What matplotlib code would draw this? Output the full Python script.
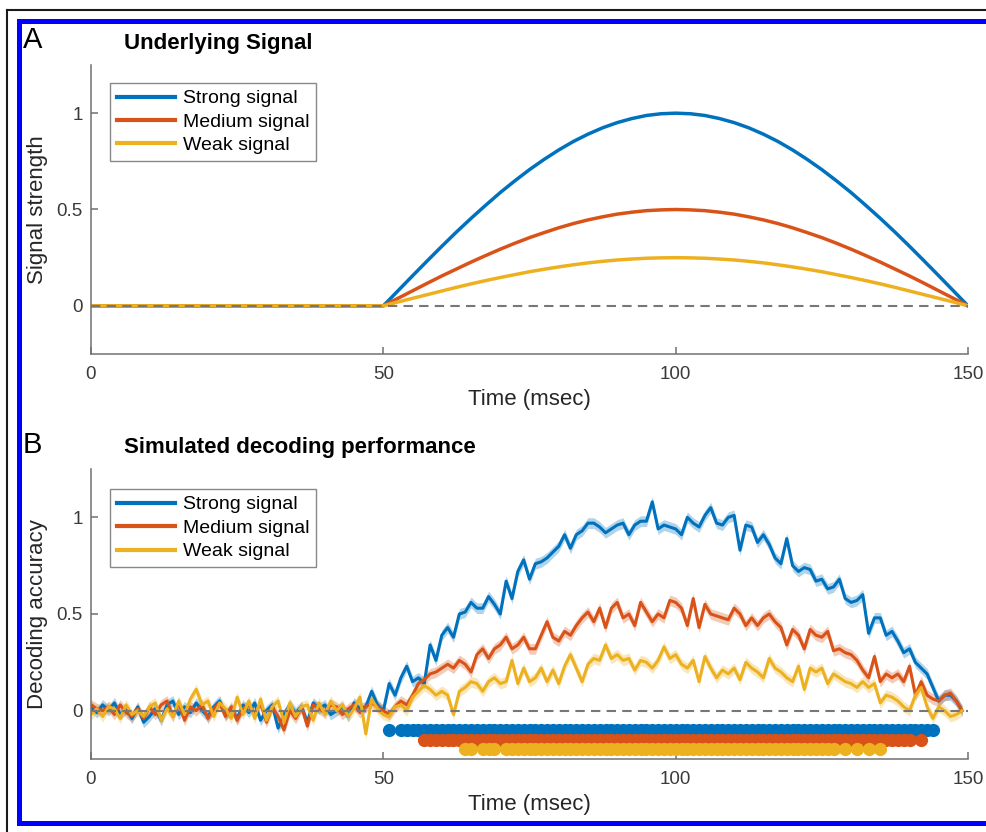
import numpy as np
import matplotlib
matplotlib.use('Agg')
import matplotlib.pyplot as plt
from matplotlib.lines import Line2D

plt.rcParams['font.family'] = ['Liberation Sans', 'DejaVu Sans']

# ---- panel A: underlying signal (msec, strength) ----
sig_time = [0, 50, 52.5, 55, 57.5, 60, 62.5, 65, 67.5, 70, 72.5, 75, 77.5, 80, 82.5,
            85, 87.5, 90, 92.5, 95, 97.5, 100, 102.5, 105, 107.5, 110, 112.5, 115,
            117.5, 120, 122.5, 125, 127.5, 130, 132.5, 135, 137.5, 140, 142.5, 145,
            147.5, 150]
sig_strong = [0, 0, 0.078, 0.156, 0.233, 0.309, 0.383, 0.454, 0.522, 0.588, 0.649,
              0.707, 0.760, 0.809, 0.853, 0.891, 0.924, 0.951, 0.972, 0.988, 0.997,
              1.0, 0.997, 0.988, 0.972, 0.951, 0.924, 0.891, 0.853, 0.809, 0.760,
              0.707, 0.649, 0.588, 0.522, 0.454, 0.383, 0.309, 0.233, 0.156, 0.078, 0]
sig_medium = [0, 0, 0.039, 0.078, 0.117, 0.155, 0.191, 0.227, 0.261, 0.294, 0.325,
              0.354, 0.380, 0.405, 0.427, 0.446, 0.462, 0.476, 0.486, 0.494, 0.498,
              0.5, 0.498, 0.494, 0.486, 0.476, 0.462, 0.446, 0.427, 0.405, 0.380,
              0.354, 0.325, 0.294, 0.261, 0.227, 0.191, 0.155, 0.117, 0.078, 0.039, 0]
sig_weak = [0, 0, 0.020, 0.039, 0.058, 0.077, 0.096, 0.114, 0.131, 0.147, 0.162,
            0.177, 0.190, 0.202, 0.213, 0.223, 0.231, 0.238, 0.243, 0.247, 0.249,
            0.25, 0.249, 0.247, 0.243, 0.238, 0.231, 0.223, 0.213, 0.202, 0.190,
            0.177, 0.162, 0.147, 0.131, 0.114, 0.096, 0.077, 0.058, 0.039, 0.020, 0]

# ---- panel B: simulated decoding accuracy, one value per msec (0..149) ----
dec_time = list(range(150))
dec_strong = [
    0.02, -0.01, 0.03, 0.00, 0.04, -0.02, 0.01, -0.04, 0.02, -0.06,
    -0.03, 0.01, -0.05, 0.03, 0.05, -0.02, 0.02, -0.01, 0.04, 0.00,
    -0.03, 0.02, 0.05, -0.02, 0.01, -0.04, 0.03, -0.01, 0.04, -0.05,
    0.00, 0.03, -0.09, -0.02, 0.03, -0.01, 0.02, -0.06, 0.04, 0.01,
    0.03, -0.02, 0.00, 0.02, -0.03, 0.04, 0.01, 0.02, 0.10, 0.03,
    0.00, 0.14, 0.08, 0.17, 0.23, 0.15, 0.17, 0.14, 0.34, 0.26,
    0.39, 0.43, 0.38, 0.50, 0.51, 0.56, 0.53, 0.53, 0.59, 0.55,
    0.50, 0.67, 0.58, 0.72, 0.78, 0.68, 0.76, 0.77, 0.79, 0.82,
    0.85, 0.91, 0.84, 0.91, 0.93, 0.97, 0.97, 0.95, 0.92, 0.94,
    0.96, 0.97, 0.91, 0.96, 0.98, 0.98, 1.08, 0.94, 0.96, 0.95,
    0.94, 0.91, 1.00, 0.97, 0.95, 1.01, 1.05, 0.97, 0.96, 1.00,
    1.01, 0.83, 0.96, 0.95, 0.87, 0.91, 0.86, 0.79, 0.76, 0.89,
    0.75, 0.72, 0.74, 0.73, 0.67, 0.68, 0.63, 0.64, 0.68, 0.58,
    0.56, 0.57, 0.60, 0.40, 0.48, 0.48, 0.39, 0.41, 0.36, 0.30,
    0.32, 0.25, 0.22, 0.19, 0.12, 0.05, 0.08, 0.08, 0.05, 0.00]
dec_medium = [
    0.03, 0.01, 0.00, 0.02, -0.02, 0.03, -0.01, -0.03, 0.01, -0.04,
    0.02, -0.02, 0.03, 0.05, -0.03, 0.04, -0.05, 0.02, 0.00, 0.03,
    -0.04, 0.01, 0.04, -0.03, 0.02, -0.05, 0.01, 0.03, -0.02, 0.04,
    -0.06, 0.02, -0.03, -0.10, 0.00, -0.04, 0.02, -0.08, 0.03, 0.01,
    -0.01, 0.03, 0.02, -0.02, 0.01, 0.03, -0.01, 0.02, 0.04, 0.02,
    0.00, -0.02, 0.02, 0.05, 0.03, 0.08, 0.14, 0.16, 0.19, 0.20,
    0.22, 0.24, 0.22, 0.26, 0.24, 0.20, 0.29, 0.32, 0.27, 0.32,
    0.34, 0.38, 0.32, 0.34, 0.38, 0.32, 0.32, 0.39, 0.46, 0.38,
    0.36, 0.41, 0.39, 0.44, 0.48, 0.51, 0.46, 0.53, 0.43, 0.53,
    0.56, 0.48, 0.50, 0.44, 0.56, 0.51, 0.46, 0.50, 0.48, 0.57,
    0.56, 0.53, 0.44, 0.58, 0.43, 0.55, 0.50, 0.49, 0.48, 0.47,
    0.53, 0.50, 0.44, 0.48, 0.44, 0.48, 0.50, 0.46, 0.43, 0.34,
    0.42, 0.39, 0.32, 0.42, 0.39, 0.38, 0.41, 0.31, 0.32, 0.30,
    0.29, 0.26, 0.21, 0.17, 0.28, 0.15, 0.19, 0.17, 0.19, 0.15,
    0.23, 0.08, 0.15, 0.08, 0.06, 0.05, 0.08, 0.09, 0.05, 0.00]
dec_weak = [
    -0.02, 0.01, -0.03, 0.02, 0.01, -0.04, 0.03, -0.02, 0.00, -0.03,
    0.02, 0.04, -0.05, 0.01, -0.03, 0.05, -0.02, 0.06, 0.11, 0.03,
    0.05, -0.03, 0.04, 0.01, -0.04, 0.07, -0.02, 0.05, -0.04, 0.06,
    -0.05, 0.02, 0.05, -0.06, 0.04, -0.03, 0.02, 0.03, -0.05, 0.04,
    -0.02, 0.05, 0.00, 0.03, -0.03, 0.01, 0.07, -0.12, 0.06, 0.01,
    -0.02, -0.03, 0.02, 0.03, 0.00, 0.07, 0.10, 0.13, 0.11, 0.08,
    0.10, 0.08, -0.02, 0.10, 0.12, 0.15, 0.14, 0.10, 0.15, 0.17,
    0.14, 0.15, 0.26, 0.14, 0.22, 0.15, 0.17, 0.22, 0.15, 0.21,
    0.14, 0.23, 0.29, 0.22, 0.15, 0.24, 0.27, 0.26, 0.34, 0.27,
    0.29, 0.26, 0.27, 0.21, 0.26, 0.25, 0.22, 0.26, 0.33, 0.27,
    0.29, 0.24, 0.22, 0.26, 0.15, 0.28, 0.22, 0.17, 0.21, 0.19,
    0.22, 0.16, 0.25, 0.22, 0.20, 0.17, 0.27, 0.22, 0.20, 0.17,
    0.15, 0.23, 0.11, 0.22, 0.20, 0.22, 0.14, 0.19, 0.17, 0.15,
    0.14, 0.12, 0.15, 0.12, 0.14, 0.04, 0.08, 0.07, 0.05, 0.02,
    0.00, 0.08, 0.12, 0.02, -0.04, 0.02, 0.00, -0.03, -0.02, 0.00]
dec_sem = 0.028

# time points where decoding is significant
sig_pts_strong = [51] + list(range(53, 145))
sig_pts_medium = list(range(57, 141)) + [142]
sig_pts_weak = [64, 65, 67, 68, 69] + list(range(71, 128)) + [129, 131, 133, 135]
sig_level = [-0.10, -0.15, -0.20]

labels = ['Strong signal', 'Medium signal', 'Weak signal']
colors = ['#0072BD', '#D95319', '#EDB120']

W, H = 986, 832
fig = plt.figure(figsize=(W / 100, H / 100), dpi=100)

axis_col = '#707070'
txt_col = '#262626'


def style_axes(ax, ylab):
    ax.set_xlim(0, 150)
    ax.set_ylim(-0.25, 1.25)
    ax.set_xticks([0, 50, 100, 150])
    ax.set_yticks([0, 0.5, 1])
    ax.set_yticklabels(['0', '0.5', '1'])
    for s in ['top', 'right']:
        ax.spines[s].set_visible(False)
    for s in ['left', 'bottom']:
        ax.spines[s].set_color(axis_col)
        ax.spines[s].set_linewidth(1.1)
    ax.tick_params(direction='in', length=5, width=1.1, color=axis_col,
                   labelsize=13.5, labelcolor='#3a3a3a')
    ax.tick_params(axis='x', pad=9)
    ax.tick_params(axis='y', pad=6)
    ax.set_xlabel('Time (msec)', fontsize=16, color=txt_col, labelpad=4)
    ax.set_ylabel(ylab, fontsize=16, color=txt_col, labelpad=6)


def add_legend(ax, top):
    handles = [Line2D([], [], color=c, lw=3) for c in colors]
    leg = ax.legend(handles, labels, loc='upper left', bbox_to_anchor=(0.0217, top),
                    fontsize=14, frameon=True, fancybox=False, framealpha=1,
                    edgecolor='#888888', borderpad=0.35, labelspacing=0.3,
                    handlelength=3.0, handletextpad=0.4, borderaxespad=0)
    leg.get_frame().set_linewidth(1.0)


# panel A
axA = fig.add_axes([91 / W, 1 - 354 / H, 877 / W, 289 / H])
for vals, c in zip([sig_strong, sig_medium, sig_weak], colors):
    axA.plot(sig_time, vals, color=c, lw=2.5, solid_joinstyle='round')
axA.axhline(0, color='#777777', lw=1.5, dashes=(4.5, 3), zorder=5)
style_axes(axA, 'Signal strength')
add_legend(axA, 0.938)

# panel B
axB = fig.add_axes([91 / W, 1 - 759 / H, 877 / W, 290 / H])
for vals, c in zip([dec_strong, dec_medium, dec_weak], colors):
    v = np.array(vals)
    axB.fill_between(dec_time, v - dec_sem, v + dec_sem, color=c, alpha=0.3, lw=0)
    axB.plot(dec_time, v, color=c, lw=2.2)
for pts, lev, c in zip([sig_pts_strong, sig_pts_medium, sig_pts_weak], sig_level, colors):
    axB.plot(pts, [lev] * len(pts), 'o', color=c, ms=9.5, mew=0)
axB.axhline(0, color='#777777', lw=1.5, dashes=(4.5, 3), zorder=5)
style_axes(axB, 'Decoding accuracy')
add_legend(axB, 0.931)

# panel letters and titles
fig.text(23 / W, 1 - 40 / H, 'A', fontsize=21, va='center', ha='left', color='black')
fig.text(124 / W, 1 - 43 / H, 'Underlying Signal', fontsize=16, fontweight='bold',
         va='center', ha='left', color='black')
fig.text(23 / W, 1 - 445 / H, 'B', fontsize=21, va='center', ha='left', color='black')
fig.text(124 / W, 1 - 447 / H, 'Simulated decoding performance', fontsize=16,
         fontweight='bold', va='center', ha='left', color='black')

# outer frame
fig.add_artist(Line2D([7 / W, 7 / W], [0, 1 - 10 / H], color='#1a1a1a', lw=1.5,
                      transform=fig.transFigure))
fig.add_artist(Line2D([7 / W, 1], [1 - 10 / H, 1 - 10 / H], color='#1a1a1a', lw=1.5,
                      transform=fig.transFigure))
blue = '#0000FF'
fig.add_artist(Line2D([19 / W, 1], [1 - 20.5 / H, 1 - 20.5 / H], color=blue, lw=3.6,
                      transform=fig.transFigure, solid_capstyle='projecting'))
fig.add_artist(Line2D([19 / W, 19 / W], [1 - 20.5 / H, 1 - 822.5 / H], color=blue, lw=3.6,
                      transform=fig.transFigure, solid_capstyle='projecting'))
fig.add_artist(Line2D([19 / W, 1], [1 - 822.5 / H, 1 - 822.5 / H], color=blue, lw=3.6,
                      transform=fig.transFigure, solid_capstyle='projecting'))

fig.savefig('out.png', dpi=100)
